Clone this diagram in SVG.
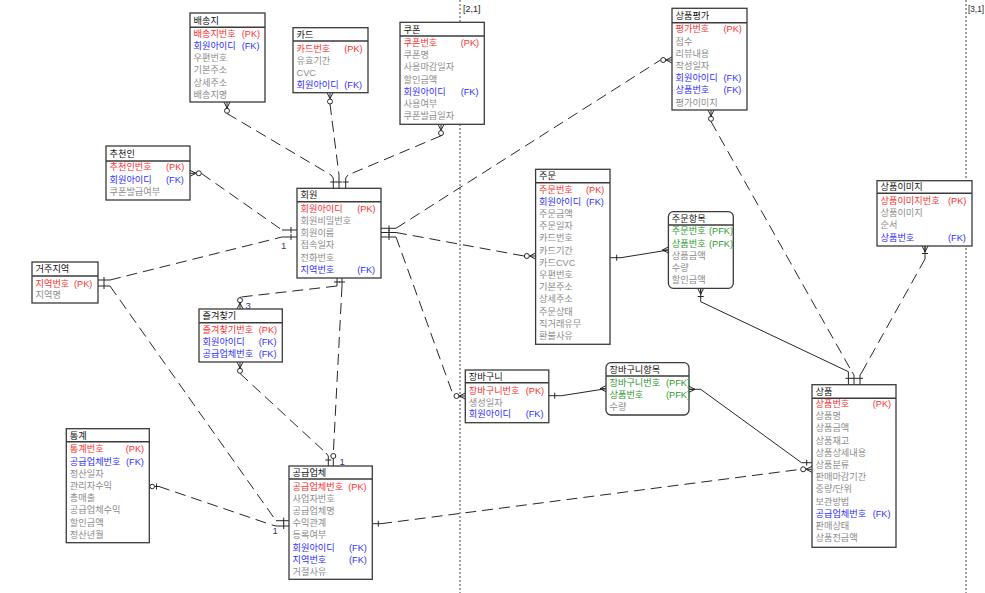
<svg xmlns="http://www.w3.org/2000/svg" xmlns:xlink="http://www.w3.org/1999/xlink" width="985" height="593" viewBox="0 0 985 593">
<style>
text{font-family:"Liberation Sans","Noto Sans CJK KR",sans-serif;font-size:9.2px}
.box{fill:#fff;stroke:#3a3a3a;stroke-width:1.3}
.sep{stroke:#3a3a3a;stroke-width:1.5;fill:none}
.h{fill:#111}
.pk{fill:#ff3030}
.fk{fill:#2f2fff}
.at{fill:#8c8c8c}
.pfk{fill:#2e9a2e}
.dash{fill:none;stroke:#262626;stroke-width:1;stroke-dasharray:11,6}
.sol{fill:none;stroke:#262626;stroke-width:1}
.mk{fill:#fff;stroke:#262626;stroke-width:1}
.grid{fill:none;stroke:#444;stroke-width:1;stroke-dasharray:2,2}
.lbl{fill:#443388;font-size:9.5px}
.gl{fill:#222;font-size:9px}
</style>
<defs>
<g id="zm"><path class="sol" d="M0,-3 L6,0 M0,0 H6 M0,3 L6,0"/><circle class="mk" cx="8.8" cy="0" r="2.5"/></g>
<g id="cf"><path class="sol" d="M0,-3 L6,0 M0,0 H6 M0,3 L6,0"/></g>
</defs>
<rect width="985" height="593" fill="#fff"/>
<g id="grid">
<path class="grid" d="M460,0 V593 M966,0 V593"/>
<text class="gl" x="463" y="12">[2,1]</text>
<text class="gl" x="968" y="12" textLength="16" lengthAdjust="spacingAndGlyphs">[3,1]</text>
</g>
<g id="connectors">
<use xlink:href="#zm" href="#zm" transform="translate(227,102) rotate(90)"/>
<path class="dash" d="M227,113.5 L331,175"/>
<path class="sol" d="M331,175 L333.3,178 V188.3 M330.3,182 H336.3"/>
<use xlink:href="#zm" href="#zm" transform="translate(330,92.7) rotate(90)"/>
<path class="dash" d="M330,104 L339,175"/>
<path class="sol" d="M339,175 V188.3 M336,182 H342"/>
<use xlink:href="#zm" href="#zm" transform="translate(441,124.3) rotate(90)"/>
<path class="dash" d="M441,135.8 L348,175"/>
<path class="sol" d="M348,175 L345.7,178 V188.3 M342.7,182 H348.7"/>
<use xlink:href="#zm" href="#zm" transform="translate(190,173.3)"/>
<path class="dash" d="M201.5,173.5 L282,230"/>
<path class="sol" d="M282,230 H297 M291,227 V233"/>
<path class="sol" d="M98,280 H110 M104,277 V283"/>
<path class="dash" d="M110,280 L282,237"/>
<path class="sol" d="M282,237 H297 M291,234 V240"/>
<text class="lbl" x="281" y="249">1</text>
<path class="sol" d="M98,286 H110 M104,283 V289"/>
<path class="dash" d="M110,286 L276,520.7"/>
<path class="sol" d="M276,520.7 H289 M283.7,517.7 V523.7"/>
<text class="lbl" x="272.5" y="534">1</text>
<circle class="mk" cx="152.2" cy="486.5" r="2.3"/>
<path class="sol" d="M156.5,483.5 V489.5 M154.5,486.5 H159"/>
<path class="dash" d="M159,486.5 L272,525"/>
<path class="sol" d="M272,525 L276,526 H289 M283.7,523 V529"/>
<path class="sol" d="M381,228.3 H396 M389,225.3 V231.3"/>
<path class="dash" d="M396,228.3 L660.5,60"/>
<use xlink:href="#zm" href="#zm" transform="translate(672,60) rotate(180)"/>
<path class="sol" d="M381,232.5 H396 M389,229.5 V235.5"/>
<path class="dash" d="M396,232.5 L524,256"/>
<use xlink:href="#zm" href="#zm" transform="translate(535.6,256) rotate(180)"/>
<path class="sol" d="M381,237 H396 M389,234 V240"/>
<path class="dash" d="M396,237 L453.5,396"/>
<use xlink:href="#zm" href="#zm" transform="translate(465.3,396) rotate(180)"/>
<path class="sol" d="M337,278 V286 M334,282 H340"/>
<path class="dash" d="M337,286 L241,297"/>
<path class="sol" d="M241,297 L240,297.5"/>
<use xlink:href="#zm" href="#zm" transform="translate(240,309) rotate(-90)"/>
<text class="lbl" x="245.5" y="308.5">3</text>
<path class="sol" d="M342,278 V286 M339,282 H345"/>
<path class="dash" d="M342,286 L333.3,453.5"/>
<circle class="mk" cx="333.3" cy="456" r="2.5"/>
<path class="sol" d="M333.3,458.5 V466"/>
<text class="lbl" x="339.5" y="465">1</text>
<use xlink:href="#zm" href="#zm" transform="translate(240,362) rotate(90)"/>
<path class="dash" d="M240,373.5 L326,453"/>
<path class="sol" d="M326,453 L328.3,456 V466 M325.3,460 H331.3"/>
<path class="sol" d="M610,257.7 H621 L668.4,250 M616.7,254.7 V260.7"/>
<use xlink:href="#cf" href="#cf" transform="translate(668.4,250) rotate(180)"/>
<use xlink:href="#cf" href="#cf" transform="translate(700.7,288.3) rotate(90)"/>
<path class="sol" d="M700.7,288.3 V301.7 L848.4,371.7 V384.7 M697.7,296.5 H703.7 M845.4,378.3 H851.4"/>
<use xlink:href="#zm" href="#zm" transform="translate(711,110) rotate(90)"/>
<path class="dash" d="M711,121.5 L852,372"/>
<path class="sol" d="M852,372 L854,375 V384.7 M851,378.3 H857"/>
<use xlink:href="#cf" href="#cf" transform="translate(925,246) rotate(90)"/>
<path class="sol" d="M925,246 V259 M922,253.5 H928"/>
<path class="dash" d="M925,259 L862,372"/>
<path class="sol" d="M862,372 L860,375 V384.7 M857,378.3 H863"/>
<path class="sol" d="M548.8,395.7 H561.7 L606,388.7 M554.7,392.7 V398.7"/>
<use xlink:href="#cf" href="#cf" transform="translate(606,388.7) rotate(180)"/>
<use xlink:href="#cf" href="#cf" transform="translate(689,389.3)"/>
<path class="sol" d="M689,389.3 H700.7 L801.5,462.7 H812 M806.7,459.7 V465.7"/>
<path class="sol" d="M372.3,523.7 H381 M378.3,520.7 V526.7"/>
<path class="dash" d="M381,523.7 L800.7,469.3"/>
<use xlink:href="#zm" href="#zm" transform="translate(812,469.3) rotate(180)"/>
</g>
<g id="배송지">
<rect class="box" x="190" y="13" width="75" height="89"/>
<path class="sep" d="M190,27.3 H265"/>
<text class="h" x="193.5" y="23.5">배송지</text>
<text class="pk" x="193.5" y="36.8">배송지번호</text><text class="pk" x="241.7" y="36.8">(PK)</text>
<text class="fk" x="193.5" y="49">회원아이디</text><text class="fk" x="241.7" y="49">(FK)</text>
<text class="at" x="193.5" y="61.2">우편번호</text>
<text class="at" x="193.5" y="73.4">기본주소</text>
<text class="at" x="193.5" y="85.6">상세주소</text>
<text class="at" x="193.5" y="97.8">배송지명</text>
</g>
<g id="카드">
<rect class="box" x="293" y="27.7" width="75" height="65"/>
<path class="sep" d="M293,41 H368"/>
<text class="h" x="296.5" y="37.7">카드</text>
<text class="pk" x="296.5" y="51.6">카드번호</text><text class="pk" x="344.3" y="51.6">(PK)</text>
<text class="at" x="296.5" y="63.5">유효기간</text>
<text class="at" x="296.5" y="75.6">CVC</text>
<text class="fk" x="296.5" y="88.3">회원아이디</text><text class="fk" x="344.3" y="88.3">(FK)</text>
</g>
<g id="쿠폰">
<rect class="box" x="400" y="22.3" width="84.3" height="102"/>
<path class="sep" d="M400,36 H484.3"/>
<text class="h" x="403.5" y="32.5">쿠폰</text>
<text class="pk" x="403.5" y="46">쿠폰번호</text><text class="pk" x="460.7" y="46">(PK)</text>
<text class="at" x="403.5" y="58.2">쿠폰명</text>
<text class="at" x="403.5" y="70.4">사용마감일자</text>
<text class="at" x="403.5" y="82.6">할인금액</text>
<text class="fk" x="403.5" y="94.8">회원아이디</text><text class="fk" x="460.7" y="94.8">(FK)</text>
<text class="at" x="403.5" y="107">사용여부</text>
<text class="at" x="403.5" y="119.2">쿠폰발급일자</text>
</g>
<g id="추천인">
<rect class="box" x="106" y="146" width="84" height="54"/>
<path class="sep" d="M106,161 H190"/>
<text class="h" x="109.5" y="156.8">추천인</text>
<text class="pk" x="109.5" y="170.3">추천인번호</text><text class="pk" x="166" y="170.3">(PK)</text>
<text class="fk" x="109.5" y="182.5">회원아이디</text><text class="fk" x="166" y="182.5">(FK)</text>
<text class="at" x="109.5" y="194.7">쿠폰발급여부</text>
</g>
<g id="회원">
<rect class="box" x="297" y="188.3" width="84" height="89.7"/>
<path class="sep" d="M297,201.7 H381"/>
<text class="h" x="300.5" y="198.3">회원</text>
<text class="pk" x="300.5" y="211.8">회원아이디</text><text class="pk" x="357.3" y="211.8">(PK)</text>
<text class="at" x="300.5" y="224">회원비밀번호</text>
<text class="at" x="300.5" y="236.2">회원이름</text>
<text class="at" x="300.5" y="248.4">접속일자</text>
<text class="at" x="300.5" y="260.6">전화번호</text>
<text class="fk" x="300.5" y="272.8">지역번호</text><text class="fk" x="357.3" y="272.8">(FK)</text>
</g>
<g id="거주지역">
<rect class="box" x="32" y="262" width="66" height="41"/>
<path class="sep" d="M32,276 H98"/>
<text class="h" x="35.5" y="272.3">거주지역</text>
<text class="pk" x="35.5" y="286.6">지역번호</text><text class="pk" x="74" y="286.6">(PK)</text>
<text class="at" x="35.5" y="297.8">지역명</text>
</g>
<g id="즐겨찾기">
<rect class="box" x="199" y="309" width="83.3" height="53"/>
<path class="sep" d="M199,322.7 H282.3"/>
<text class="h" x="202.5" y="319.2">즐겨찾기</text>
<text class="pk" x="202.5" y="332.6">즐겨찾기번호</text><text class="pk" x="258.7" y="332.6">(PK)</text>
<text class="fk" x="202.5" y="344.8">회원아이디</text><text class="fk" x="258.7" y="344.8">(FK)</text>
<text class="fk" x="202.5" y="357">공급업체번호</text><text class="fk" x="258.7" y="357">(FK)</text>
</g>
<g id="상품평가">
<rect class="box" x="672" y="8.3" width="75" height="101.7"/>
<path class="sep" d="M672,22.7 H747"/>
<text class="h" x="675.5" y="18.8">상품평가</text>
<text class="pk" x="675.5" y="32.3">평가번호</text><text class="pk" x="723.5" y="32.3">(PK)</text>
<text class="at" x="675.5" y="44.5">점수</text>
<text class="at" x="675.5" y="56.7">리뷰내용</text>
<text class="at" x="675.5" y="68.9">작성일자</text>
<text class="fk" x="675.5" y="81.1">회원아이디</text><text class="fk" x="723.5" y="81.1">(FK)</text>
<text class="fk" x="675.5" y="93.3">상품번호</text><text class="fk" x="723.5" y="93.3">(FK)</text>
<text class="at" x="675.5" y="105.5">평가이미지</text>
</g>
<g id="주문">
<rect class="box" x="535.6" y="169.3" width="74.4" height="175"/>
<path class="sep" d="M535.6,182.7 H610"/>
<text class="h" x="539" y="179.3">주문</text>
<text class="pk" x="539" y="192.6">주문번호</text><text class="pk" x="586" y="192.6">(PK)</text>
<text class="fk" x="539" y="204.8">회원아이디</text><text class="fk" x="586" y="204.8">(FK)</text>
<text class="at" x="539" y="217">주문금액</text>
<text class="at" x="539" y="229.2">주문일자</text>
<text class="at" x="539" y="241.4">카드번호</text>
<text class="at" x="539" y="253.6">카드기간</text>
<text class="at" x="539" y="265.8">카드CVC</text>
<text class="at" x="539" y="278">우편번호</text>
<text class="at" x="539" y="290.2">기본주소</text>
<text class="at" x="539" y="302.4">상세주소</text>
<text class="at" x="539" y="314.6">주문상태</text>
<text class="at" x="539" y="326.8">직거래유무</text>
<text class="at" x="539" y="339">환불사유</text>
</g>
<g id="주문항목">
<rect class="box" x="668.4" y="211.7" width="64.9" height="76.6" rx="5"/>
<path class="sep" d="M668.4,225 H733.3"/>
<text class="h" x="671.8" y="221.7">주문항목</text>
<text class="pfk" x="671.8" y="234.3">주문번호</text><text class="pfk" x="709" y="234.3">(PFK)</text>
<text class="pfk" x="671.8" y="246.5">상품번호</text><text class="pfk" x="709" y="246.5">(PFK)</text>
<text class="at" x="671.8" y="258.7">상품금액</text>
<text class="at" x="671.8" y="270.9">수량</text>
<text class="at" x="671.8" y="283.1">할인금액</text>
</g>
<g id="상품이미지">
<rect class="box" x="877" y="180.7" width="95" height="65.3"/>
<path class="sep" d="M877,193.3 H972"/>
<text class="h" x="880.5" y="190.3">상품이미지</text>
<text class="pk" x="880.5" y="204">상품이미지번호</text><text class="pk" x="948" y="204">(PK)</text>
<text class="at" x="880.5" y="216.2">상품이미지</text>
<text class="at" x="880.5" y="228.4">순서</text>
<text class="fk" x="880.5" y="240.6">상품번호</text><text class="fk" x="948" y="240.6">(FK)</text>
</g>
<g id="장바구니">
<rect class="box" x="465.3" y="370" width="83.5" height="52.7"/>
<path class="sep" d="M465.3,382.7 H548.8"/>
<text class="h" x="468.8" y="379.7">장바구니</text>
<text class="pk" x="468.8" y="393.8">장바구니번호</text><text class="pk" x="525.7" y="393.8">(PK)</text>
<text class="at" x="468.8" y="405.5">생성일자</text>
<text class="fk" x="468.8" y="417.3">회원아이디</text><text class="fk" x="525.7" y="417.3">(FK)</text>
</g>
<g id="장바구니항목">
<rect class="box" x="606" y="362.7" width="83" height="52.3" rx="5"/>
<path class="sep" d="M606,376 H689"/>
<text class="h" x="609.5" y="372.7">장바구니항목</text>
<text class="pfk" x="609.5" y="386">장바구니번호</text><text class="pfk" x="666" y="386">(PFK)</text>
<text class="pfk" x="609.5" y="398.2">상품번호</text><text class="pfk" x="666" y="398.2">(PFK)</text>
<text class="at" x="609.5" y="410.4">수량</text>
</g>
<g id="상품">
<rect class="box" x="812" y="384.7" width="84" height="162.6"/>
<path class="sep" d="M812,398.3 H896"/>
<text class="h" x="815.5" y="394.8">상품</text>
<text class="pk" x="815.5" y="407">상품번호</text><text class="pk" x="872.7" y="407">(PK)</text>
<text class="at" x="815.5" y="419.2">상품명</text>
<text class="at" x="815.5" y="431.4">상품금액</text>
<text class="at" x="815.5" y="443.6">상품재고</text>
<text class="at" x="815.5" y="455.8">상품상세내용</text>
<text class="at" x="815.5" y="468">상품분류</text>
<text class="at" x="815.5" y="480.2">판매마감기간</text>
<text class="at" x="815.5" y="492.4">중량/단위</text>
<text class="at" x="815.5" y="504.6">보관방법</text>
<text class="fk" x="815.5" y="516.8">공급업체번호</text><text class="fk" x="872.7" y="516.8">(FK)</text>
<text class="at" x="815.5" y="529">판매상태</text>
<text class="at" x="815.5" y="541.2">상품전금액</text>
</g>
<g id="통계">
<rect class="box" x="66.3" y="428.7" width="83" height="114"/>
<path class="sep" d="M66.3,441.7 H149.3"/>
<text class="h" x="69.8" y="438.5">통계</text>
<text class="pk" x="69.8" y="452.3">통계번호</text><text class="pk" x="125.7" y="452.3">(PK)</text>
<text class="fk" x="69.8" y="464.5">공급업체번호</text><text class="fk" x="126" y="464.5">(FK)</text>
<text class="at" x="69.8" y="476.7">정산일자</text>
<text class="at" x="69.8" y="488.9">관리자수익</text>
<text class="at" x="69.8" y="501.1">총매출</text>
<text class="at" x="69.8" y="513.3">공급업체수익</text>
<text class="at" x="69.8" y="525.5">할인금액</text>
<text class="at" x="69.8" y="537.7">정산년월</text>
</g>
<g id="공급업체">
<rect class="box" x="289" y="466" width="83.3" height="113.3"/>
<path class="sep" d="M289,479 H372.3"/>
<text class="h" x="292.5" y="475.8">공급업체</text>
<text class="pk" x="292.5" y="489.6">공급업체번호</text><text class="pk" x="348.3" y="489.6">(PK)</text>
<text class="at" x="292.5" y="501.8">사업자번호</text>
<text class="at" x="292.5" y="514">공급업체명</text>
<text class="at" x="292.5" y="526.2">수익관계</text>
<text class="at" x="292.5" y="538.4">등록여부</text>
<text class="fk" x="292.5" y="550.6">회원아이디</text><text class="fk" x="349" y="550.6">(FK)</text>
<text class="fk" x="292.5" y="562.8">지역번호</text><text class="fk" x="349" y="562.8">(FK)</text>
<text class="at" x="292.5" y="575">거절사유</text>
</g>
</svg>
